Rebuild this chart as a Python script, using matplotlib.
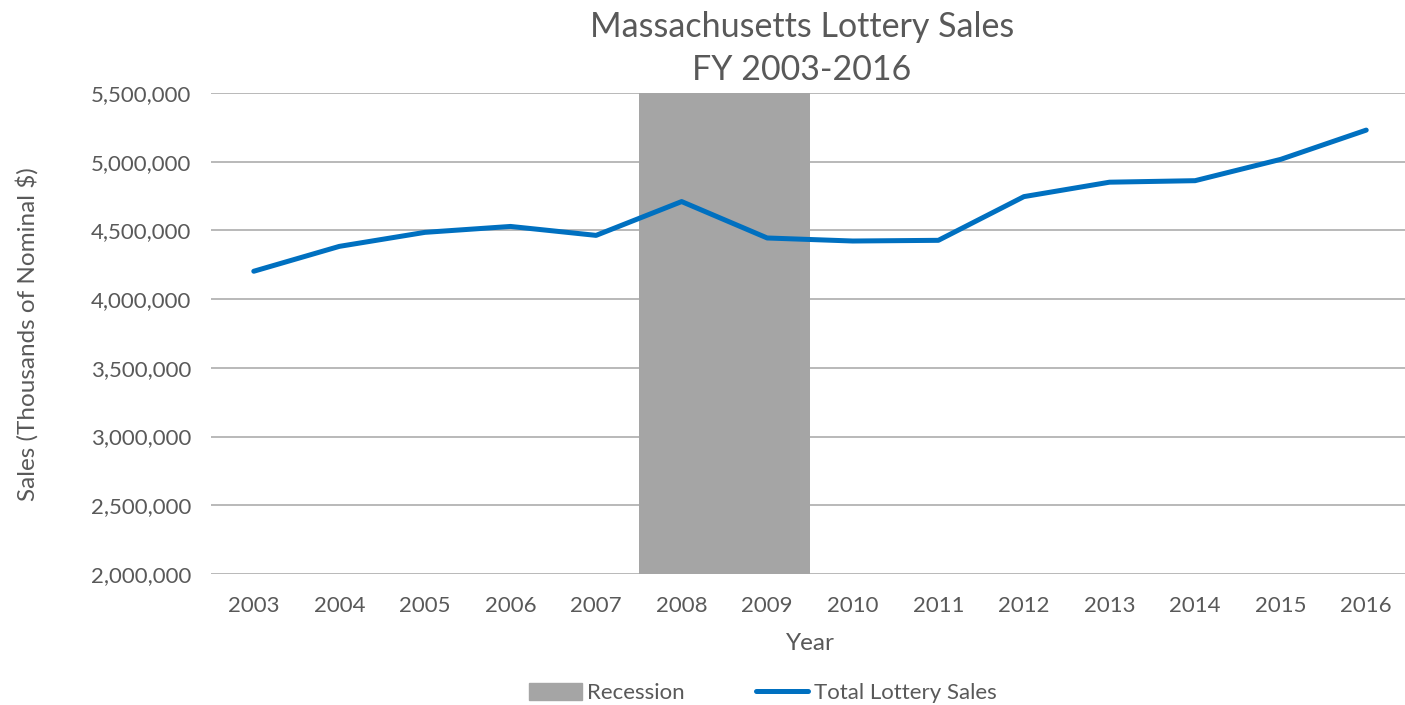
import matplotlib
matplotlib.use("Agg")
import matplotlib.pyplot as plt
from matplotlib.patches import Patch
from matplotlib.lines import Line2D
from matplotlib.ticker import FuncFormatter

years = ["2003", "2004", "2005", "2006", "2007", "2008", "2009",
         "2010", "2011", "2012", "2013", "2014", "2015", "2016"]
sales = [4203000, 4384000, 4486000, 4529000, 4464000, 4710000, 4445000,
         4423000, 4428000, 4746000, 4851000, 4862000, 5017000, 5230000]
recession = [0, 0, 0, 0, 0, 5500000, 5500000, 0, 0, 0, 0, 0, 0, 0]
y_ticks = [2000000, 2500000, 3000000, 3500000, 4000000, 4500000, 5000000, 5500000]

plt.rcParams['font.family'] = ['Lato', 'DejaVu Sans']
txt = '#595959'
W, H = 1405, 705
fig = plt.figure(figsize=(W / 100, H / 100), dpi=100)
left, right, top, bottom = 211, 1409, 93, 574
ax = fig.add_axes([left / W, 1 - bottom / H, (right - left) / W, (bottom - top) / H])

x = list(range(len(years)))
ax.bar(x, recession, width=1.0, color='#a5a5a5', zorder=2, label='Recession')
ax.plot(x, sales, color='#0070c0', lw=3.6, solid_capstyle='round',
        solid_joinstyle='round', zorder=3, label='Total Lottery Sales')

ax.set_xlim(-0.5, len(years) - 0.5)
ax.set_ylim(y_ticks[0], y_ticks[-1])
ax.set_yticks(y_ticks)
ax.yaxis.set_major_formatter(FuncFormatter(lambda v, p: f"{int(v):,}"))
ax.set_xticks(x)
ax.set_xticklabels(years)
ax.grid(axis='y', color='#b3b3b3', lw=1.3, zorder=1)
ax.set_axisbelow(True)
for s in ax.spines.values():
    s.set_visible(False)
ax.tick_params(length=0, labelsize=16, colors=txt)
ax.tick_params(axis='y', pad=14)
ax.tick_params(axis='x', pad=16)

fig.text(802 / W, 1 - 27 / H, "Massachusetts Lottery Sales", ha='center', va='center',
         fontsize=24.5, color=txt)
fig.text(802 / W, 1 - 70 / H, "FY 2003-2016", ha='center', va='center',
         fontsize=24.5, color=txt)
fig.text(810 / W, 1 - 644 / H, "Year", ha='center', va='center', fontsize=17.5, color=txt)
fig.text(27 / W, 1 - 334 / H, "Sales (Thousands of Nominal $)", ha='center', va='center',
         rotation=90, fontsize=17.5, color=txt)

handles = [Patch(color='#a5a5a5'), Line2D([], [], color='#0070c0', lw=3.6, solid_capstyle='round')]
fig.legend(handles, ["Recession", "Total Lottery Sales"], loc='center',
           bbox_to_anchor=(763 / W, 1 - 693 / H), ncol=2, frameon=False,
           fontsize=16, labelcolor=txt, handlelength=2.35, handletextpad=0.25,
           columnspacing=3.2, handleheight=0.8)

fig.savefig("out.png", dpi=100)
